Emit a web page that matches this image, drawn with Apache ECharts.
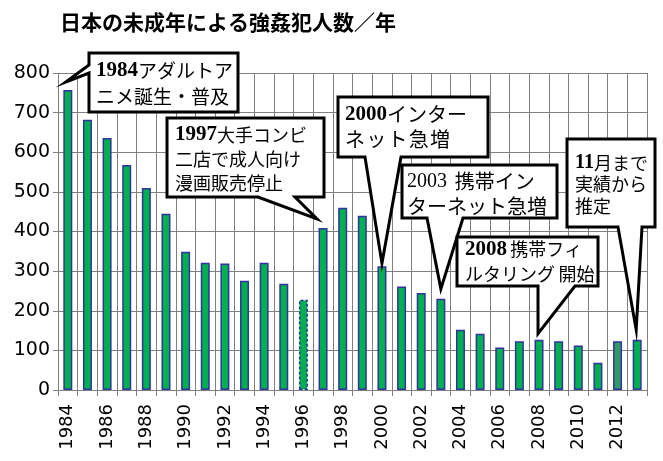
<!DOCTYPE html>
<html><head><meta charset="utf-8">
<script src="https://cdn.jsdelivr.net/npm/echarts@6/dist/echarts.min.js"></script>
<style>html,body{margin:0;padding:0;background:#fff}#c{width:663px;height:461px}</style>
</head><body><div id="c"></div>
<script>
const titleText = '日本の未成年による強姦犯人数／年';
const years = ['1984','1985','1986','1987','1988','1989','1990','1991','1992','1993','1994','1995','1996','1997','1998','1999','2000','2001','2002','2003','2004','2005','2006','2007','2008','2009','2010','2011','2012','2013'];
const counts = [757,682,636,568,510,445,349,321,319,276,321,268,228,409,460,440,312,261,245,230,152,142,107,123,127,123,112,69,123,127];
const dashedYears = ['1996'];
const darkYears = ['2012'];
const yMin = 0, yMax = 800, yStep = 100;

// annotation texts (rich text markup) and the bar they point at
const noteYears = ['1984','1997','2000','2003','2008','2013'];
const noteTexts = [
  '{d|1984}{j|アダルトア}\n{j|ニメ誕生・普及}',
  '{d|1997}{j|大手コンビ}\n{j|二店で成人向け}\n{j|漫画販売停止}',
  '{d|2000}{j|インター}\n{j|ネ\u200aッ\u200aト\u200a急\u200a増}',
  '{s|2003} {j| 携帯イン}\n{j|ターネット急増}',
  '{d|2008} {j|携帯フィ}\n{j|ルタリング\u2009開始}',
  '{d|11}{j|月まで}\n{j|実績から}\n{j|推定}'
];

// layout of the callouts (pixels)
const noteLayout = [
  {box:[89,53,238,112], side:'left', base:[65,73], off:[-2,-8], tx:96, ty:58, lh:26, fs:19, ds:21},
  {box:[167,118,324,197], side:'bottom', base:[258,295], off:[-6,-9], tx:175, ty:123, lh:24, fs:18, ds:21},
  {box:[338,97,488,157], side:'bottom', base:[365,401], off:[0,-3], tx:345, ty:102, lh:25, fs:20, ds:21},
  {box:[402,165,557,218], side:'bottom', base:[427,463], off:[0,-10], tx:407, ty:169, lh:25, fs:20, ds:20},
  {box:[457,237,598,286], side:'bottom', base:[538,575], off:[-1,-6], tx:465, ty:237, lh:25, fs:18, ds:21},
  {box:[567,139,655,227], side:'bottom', base:[618,642], off:[-1,-10], tx:575, ty:152, lh:21.5, fs:18, ds:20}
];

const items = counts.map((v, i) => {
  const it = {value: v};
  const st = {};
  if (dashedYears.includes(years[i])) { st.borderType = [3, 2]; }
  if (darkYears.includes(years[i])) { st.color = '#339966'; }
  it.itemStyle = st;
  return it;
});

const chart = echarts.init(document.getElementById('c'), null, {renderer:'canvas'});
const gridCol = '#808080';
chart.setOption({
  animation: false,
  backgroundColor: '#fff',
  title: {text: titleText, left: 55, top: 7,
    textStyle: {fontFamily: '"Noto Sans CJK JP"', fontSize: 21, fontWeight: 'bold', color: '#000'}},
  grid: {left: 58, right: 16, top: 73, bottom: 71, containLabel: false, outerBoundsMode: 'none'},
  xAxis: {type: 'category', data: years, boundaryGap: true,
    axisLine: {show: true, lineStyle: {color: gridCol, width: 1}},
    axisTick: {show: true, interval: 0, length: 6, lineStyle: {color: gridCol}},
    axisLabel: {interval: 1, rotate: 90, fontFamily: '"DejaVu Sans"', fontSize: 18, color: '#000', margin: 14},
    splitLine: {show: true, interval: 0, lineStyle: {color: gridCol, width: 1}}},
  yAxis: {type: 'value', min: yMin, max: yMax, interval: yStep,
    axisLine: {show: true, lineStyle: {color: gridCol}},
    axisTick: {show: true, length: 5, lineStyle: {color: gridCol}},
    axisLabel: {fontFamily: '"DejaVu Sans"', fontSize: 19, color: '#000', margin: 8},
    splitLine: {show: true, lineStyle: {color: gridCol, width: 1}}},
  series: [{type: 'bar', data: items, barWidth: 9,
    itemStyle: {color: '#00b050', borderColor: '#3333a0', borderWidth: 1.5}}]
});

const graphics = [];
noteYears.forEach((yr, k) => {
  const L = noteLayout[k];
  const idx = years.indexOf(yr);
  const p = chart.convertToPixel({xAxisIndex: 0, yAxisIndex: 0}, [yr, counts[idx]]);
  const tip = [p[0] + L.off[0], p[1] + L.off[1]];
  const [l, t, r, b] = L.box;
  let pts;
  if (L.side === 'left') {
    pts = [[l, t], [r, t], [r, b], [l, b], [l, L.base[1]], tip, [l, L.base[0]]];
  } else {
    pts = [[l, t], [r, t], [r, b], [L.base[1], b], tip, [L.base[0], b], [l, b]];
  }
  graphics.push({type: 'polygon', z: 100, shape: {points: pts},
    style: {fill: '#fff', stroke: '#000', lineWidth: 3, lineJoin: 'miter'}});
  graphics.push({type: 'text', z: 101, x: L.tx, y: L.ty,
    style: {text: noteTexts[k], fill: '#000', verticalAlign: 'top', align: 'left',
      rich: {
        d: {fontFamily: '"Liberation Serif"', fontWeight: 'bold', fontSize: L.ds, lineHeight: L.lh, fill: '#000'},
        s: {fontFamily: '"Liberation Serif"', fontWeight: 'normal', fontSize: L.ds, lineHeight: L.lh, fill: '#000'},
        j: {fontFamily: '"Noto Sans CJK JP"', fontSize: L.fs, lineHeight: L.lh, fill: '#000'}
      }}});
});
chart.setOption({graphic: graphics});
</script></body></html>
